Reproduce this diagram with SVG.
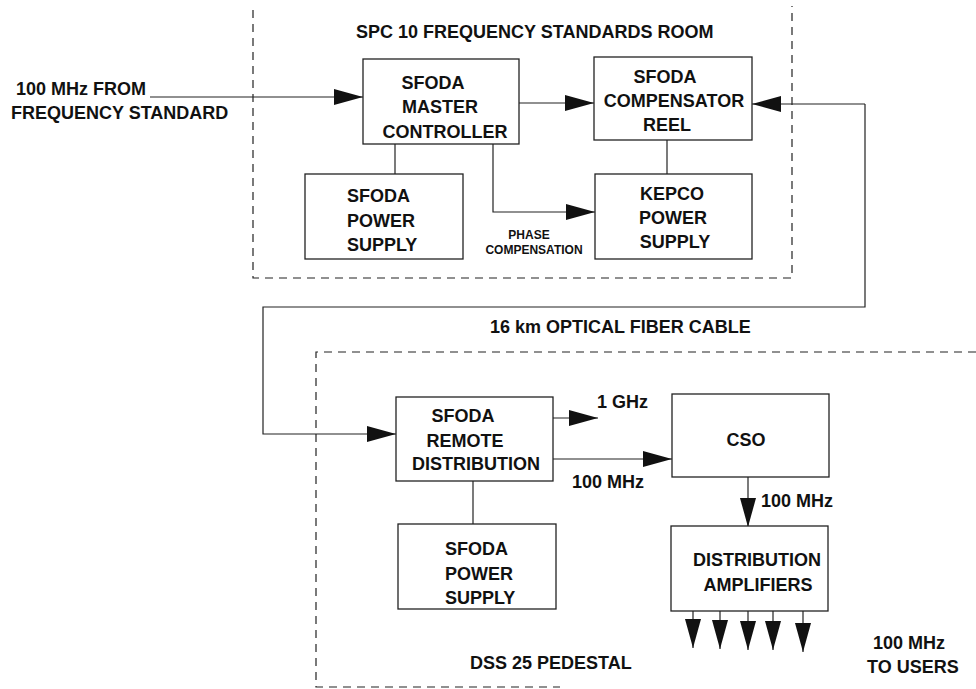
<svg xmlns="http://www.w3.org/2000/svg" width="976" height="689" viewBox="0 0 976 689">
<style>
text{font-family:"Liberation Sans",Arial,sans-serif;font-weight:bold;font-size:18px;fill:#111}
.sm{font-size:12px}
.box{fill:#fff;stroke:#222;stroke-width:1.3}
.ln{fill:none;stroke:#222;stroke-width:1.2}
.dash{fill:none;stroke:#222;stroke-width:1.2;stroke-dasharray:8 6}
.ah{fill:#111}
</style>
<defs>
<marker id="arr" markerUnits="userSpaceOnUse" markerWidth="30" markerHeight="16" refX="29" refY="8" orient="auto" viewBox="0 0 30 16">
<path d="M0,0 L29,8 L0,16 z" class="ah"/>
</marker>
</defs>
<g id="rooms">
<path class="dash" d="M253,10 V278 H792 V6"/>
<path class="dash" d="M976,352 H316 V687 H560"/>
<text x="356" y="38">SPC 10 FREQUENCY STANDARDS ROOM</text>
<text x="470" y="669">DSS 25 PEDESTAL</text>
</g>
<g id="connectors">
<path class="ln" d="M150,97 H363" marker-end="url(#arr)"/>
<path class="ln" d="M519,103 H594" marker-end="url(#arr)"/>
<path class="ln" d="M395,144 V174"/>
<path class="ln" d="M493,144 V212 H595" marker-end="url(#arr)"/>
<path class="ln" d="M667,140 V174"/>
<path class="ln" d="M865,104 H752" marker-end="url(#arr)"/>
<path class="ln" d="M865,104 V307 H263 V434 H396" marker-end="url(#arr)"/>
<path class="ln" d="M553,418 H598" marker-end="url(#arr)"/>
<path class="ln" d="M553,459 H672" marker-end="url(#arr)"/>
<path class="ln" d="M473,481 V524"/>
<path class="ln" d="M748,477 V527" marker-end="url(#arr)"/>
<path class="ln" d="M693,611 V648" marker-end="url(#arr)"/>
<path class="ln" d="M720,611 V649" marker-end="url(#arr)"/>
<path class="ln" d="M748,611 V650" marker-end="url(#arr)"/>
<path class="ln" d="M773,611 V650" marker-end="url(#arr)"/>
<path class="ln" d="M803,611 V652" marker-end="url(#arr)"/>
<text x="16" y="95">100 MHz FROM</text>
<text x="11" y="119">FREQUENCY STANDARD</text>
<text class="sm" x="529" y="239" text-anchor="middle">PHASE</text>
<text class="sm" x="534" y="254" text-anchor="middle">COMPENSATION</text>
<text x="490" y="333">16 km OPTICAL FIBER CABLE</text>
<text x="597" y="408">1 GHz</text>
<text x="572" y="488">100 MHz</text>
<text x="761" y="507">100 MHz</text>
<text x="873" y="649">100 MHz</text>
<text x="867" y="673">TO USERS</text>
</g>
<g id="master">
<rect class="box" x="363" y="59" width="156" height="85"/>
<text x="433" y="89" text-anchor="middle">SFODA</text>
<text x="440" y="113" text-anchor="middle">MASTER</text>
<text x="445" y="138" text-anchor="middle">CONTROLLER</text>
</g>
<g id="compensator">
<rect class="box" x="594" y="57" width="158" height="83"/>
<text x="665" y="83" text-anchor="middle">SFODA</text>
<text x="674" y="107" text-anchor="middle">COMPENSATOR</text>
<text x="667" y="131" text-anchor="middle">REEL</text>
</g>
<g id="power1">
<rect class="box" x="305" y="174" width="158" height="85"/>
<text x="347" y="202">SFODA</text>
<text x="347" y="227">POWER</text>
<text x="347" y="251">SUPPLY</text>
</g>
<g id="kepco">
<rect class="box" x="595" y="174" width="157" height="85"/>
<text x="672" y="200" text-anchor="middle">KEPCO</text>
<text x="673" y="224" text-anchor="middle">POWER</text>
<text x="675" y="248" text-anchor="middle">SUPPLY</text>
</g>
<g id="remote">
<rect class="box" x="396" y="397" width="157" height="84"/>
<text x="463" y="422" text-anchor="middle">SFODA</text>
<text x="465" y="447" text-anchor="middle">REMOTE</text>
<text x="476" y="470" text-anchor="middle">DISTRIBUTION</text>
</g>
<g id="power2">
<rect class="box" x="398" y="524" width="158" height="85"/>
<text x="445" y="555">SFODA</text>
<text x="445" y="580">POWER</text>
<text x="445" y="604">SUPPLY</text>
</g>
<g id="cso">
<rect class="box" x="672" y="394" width="157" height="83"/>
<text x="746" y="446" text-anchor="middle">CSO</text>
</g>
<g id="amps">
<rect class="box" x="671" y="526" width="157" height="85"/>
<text x="757" y="566" text-anchor="middle">DISTRIBUTION</text>
<text x="758" y="591" text-anchor="middle">AMPLIFIERS</text>
</g>
</svg>
